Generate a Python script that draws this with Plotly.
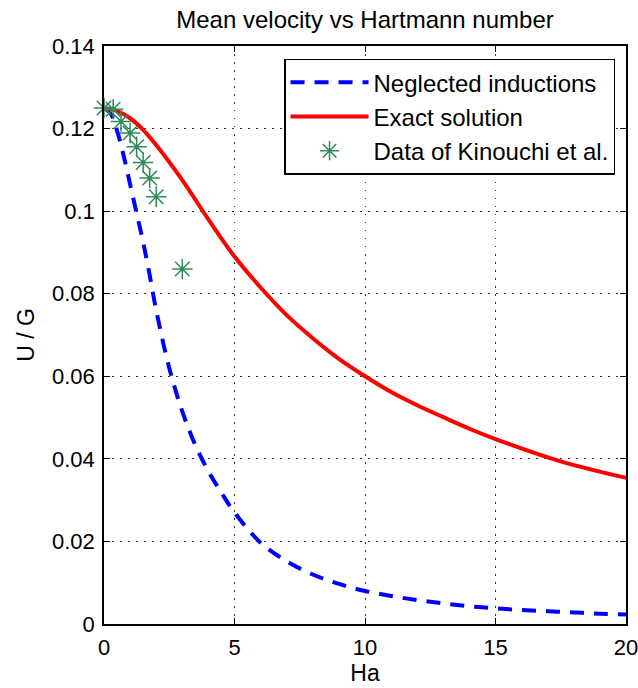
import plotly.graph_objects as go

# Neglected inductions (blue dashed)
ha_neg = [0, 0.25, 0.5, 0.75, 1.0, 1.25, 1.5, 1.75, 2.0, 2.5, 3.0, 3.5, 4.0, 4.5, 5.0, 6.0, 7.0,
          8.0, 9.0, 10, 11, 12, 13, 14, 15, 16, 17, 18, 19, 20]
u_neg = [0.125, 0.1236, 0.1195, 0.1135, 0.1065, 0.0995, 0.0925, 0.0845, 0.0760, 0.0620, 0.0515,
         0.0433, 0.0370, 0.0318, 0.0270, 0.0197, 0.0152, 0.0120, 0.0097, 0.0080, 0.0068, 0.0058,
         0.0050, 0.0043, 0.0038, 0.0034, 0.0031, 0.0028, 0.0025, 0.0023]

# Exact solution (red)
ha_exact = [0, 0.5, 1.0, 1.5, 2.0, 3.0, 4.0, 5.0, 6.0, 7.0, 8.0, 9.0, 10, 11, 12, 13, 14, 15,
            17.5, 20]
u_exact = [0.125, 0.1243, 0.1225, 0.1197, 0.1160, 0.1075, 0.0980, 0.0890, 0.0815, 0.0748,
           0.0692, 0.0642, 0.0600, 0.0562, 0.0530, 0.0501, 0.0473, 0.0448, 0.0394, 0.0354]

# Data of Kinouchi et al. (stars)
ha_data = [0, 0.35, 0.65, 1.0, 1.25, 1.5, 1.75, 2.0, 3.0]
u_data = [0.125, 0.1247, 0.1217, 0.1189, 0.1156, 0.1118, 0.108, 0.1035, 0.086]

x_ticks = [0, 5, 10, 15, 20]
y_ticks = [0, 0.02, 0.04, 0.06, 0.08, 0.1, 0.12, 0.14]
y_ticktext = ["0", "0.02", "0.04", "0.06", "0.08", "0.1", "0.12", "0.14"]

FONT = "Liberation Sans, Arial, sans-serif"

fig = go.Figure()
fig.add_trace(go.Scatter(x=ha_neg, y=u_neg, mode="lines", name="Neglected inductions",
                         line=dict(color="#0000FF", width=4, dash="14px,10px", shape="spline")))
fig.add_trace(go.Scatter(x=ha_exact, y=u_exact, mode="lines", name="Exact solution",
                         line=dict(color="#FF0000", width=4, shape="spline")))
fig.add_trace(go.Scatter(x=ha_data, y=u_data, mode="markers", name="Data of Kinouchi et al.",
                         cliponaxis=False,
                         marker=dict(symbol="asterisk-open", size=17, color="#2E8B57",
                                     line=dict(color="#2E8B57", width=1.5))))

axis_common = dict(showline=True, linecolor="black", linewidth=1.5, mirror="allticks",
                   ticks="inside", ticklen=6, tickcolor="black", showgrid=True,
                   gridcolor="#333333", griddash="1.5px,6.5px", gridwidth=1, zeroline=False,
                   automargin=False, ticklabeloverflow="allow",
                   tickfont=dict(family=FONT, size=22, color="black"))

fig.update_layout(
    width=638, height=688,
    margin=dict(l=104, r=12, t=46, b=64),
    paper_bgcolor="white", plot_bgcolor="white",
    title=dict(text="Mean velocity vs Hartmann number", x=365 / 638, xanchor="center",
               y=1 - 20 / 688, yanchor="middle",
               font=dict(family=FONT, size=24, color="black")),
    xaxis=dict(range=[0, 20], tickvals=x_ticks, ticklabelstandoff=3,
               title=dict(text="Ha", font=dict(family=FONT, size=23, color="black"), standoff=0),
               **axis_common),
    yaxis=dict(range=[0, 0.14], tickvals=y_ticks, ticktext=y_ticktext, ticklabelstandoff=3,
               title=dict(text="U / G", font=dict(family=FONT, size=23, color="black"), standoff=11),
               **axis_common),
    legend=dict(x=0.979, y=0.978, xanchor="right", yanchor="top", bgcolor="white",
                bordercolor="black", borderwidth=1.5, itemwidth=78,
                font=dict(family=FONT, size=24, color="black"), tracegroupgap=0),
    showlegend=True,
)

# Remove the default page margin so the figure sits at the window's top-left corner.
fig.write_html("out.html", config={"displayModeBar": False},
               post_script="document.body.style.margin='0';")
